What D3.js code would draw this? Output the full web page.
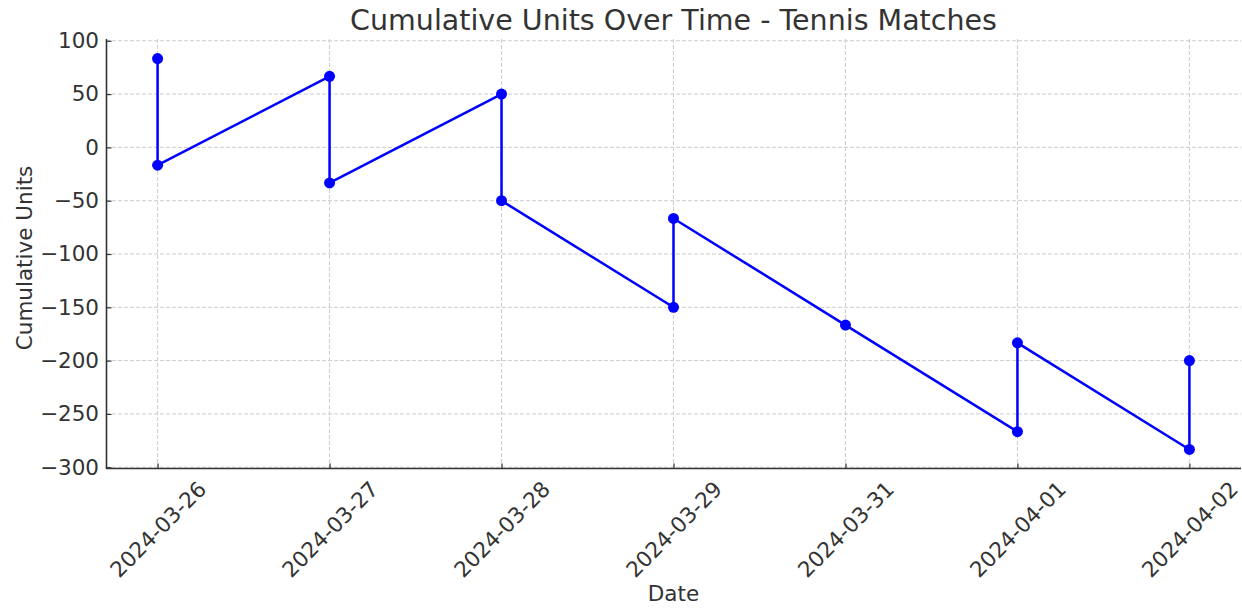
<!DOCTYPE html>
<html><head><meta charset="utf-8">
<script src="https://cdn.jsdelivr.net/npm/d3@7"></script>
<style>body{margin:0;background:#fff}svg{display:block}svg text{font-family:"DejaVu Sans",sans-serif}</style>
</head><body><svg id="c" width="1242" height="609"></svg>
<script>
const categories = ["2024-03-26","2024-03-27","2024-03-28","2024-03-29","2024-03-31","2024-04-01","2024-04-02"];
const pointDates = ["2024-03-26","2024-03-26","2024-03-27","2024-03-27","2024-03-28","2024-03-28","2024-03-29","2024-03-29","2024-03-31","2024-04-01","2024-04-01","2024-04-02","2024-04-02"];
const cumulativeUnits = [83.33,-16.67,66.67,-33.33,50,-50,-150,-66.67,-166.67,-266.67,-183.33,-283.33,-200];
const yTicks = [100,50,0,-50,-100,-150,-200,-250,-300];
const titleText = "Cumulative Units Over Time - Tennis Matches";
const xLabel = "Date", yLabel = "Cumulative Units";

const svg = d3.select("#c");
const L = 106, R = 1241, T = 39, B = 469;
const n = categories.length;
const x = d3.scaleLinear().domain([-0.3, n - 1 + 0.3]).range([L, R]);
const xi = d => x(categories.indexOf(d));
const ymin = d3.min(cumulativeUnits), ymax = d3.max(cumulativeUnits), pad = (ymax - ymin) * 0.05;
const y = d3.scaleLinear().domain([ymin - pad, ymax + pad]).range([B, T]);
const txt = "#333";
const FS = "21.5px";

// grid
const g = svg.append("g");
g.selectAll(".gx").data(categories).join("line")
  .attr("x1", d => xi(d)).attr("x2", d => xi(d)).attr("y1", T).attr("y2", B)
  .attr("stroke", "#cccccc").attr("stroke-width", 1).attr("stroke-dasharray", "4,2");
g.selectAll(".gy").data(yTicks).join("line")
  .attr("x1", L).attr("x2", R).attr("y1", d => y(d)).attr("y2", d => y(d))
  .attr("stroke", "#cccccc").attr("stroke-width", 1).attr("stroke-dasharray", "4,2");

// axes
const xAxis = d3.axisBottom(d3.scalePoint().domain(categories).range([xi(categories[0]), xi(categories[n-1])]))
  .tickSizeInner(-5).tickSizeOuter(0);
const xg = svg.append("g").attr("transform", `translate(0,${B - 0.5})`).call(xAxis).attr("font-family", null).attr("font-size", null);
xg.select(".domain").attr("d", `M${L},0H${R}`).attr("stroke", txt).attr("stroke-width", 1.6);
xg.selectAll(".tick line").attr("stroke", txt).attr("stroke-width", 1.2);
xg.selectAll(".tick text").attr("fill", txt).style("font-size", FS)
  .attr("text-anchor", "middle").attr("dy", "0.35em").attr("x", 0).attr("y", 0)
  .each(function() {
    const len = this.getComputedTextLength();
    const h = 16;
    const half = (len + h) * Math.SQRT1_2 / 2;
    d3.select(this).attr("transform", `translate(0,${11 + half}) rotate(-45)`);
  });

const yAxis = d3.axisLeft(y).tickValues(yTicks).tickSizeInner(-5).tickSizeOuter(0)
  .tickFormat(d => d < 0 ? "\u2212" + Math.abs(d) : d);
const yg = svg.append("g").attr("transform", `translate(${L + 0.5},0)`).call(yAxis).attr("font-family", null).attr("font-size", null);
yg.select(".domain").attr("d", `M0,${T}V${B}`).attr("stroke", txt).attr("stroke-width", 1.6);
yg.selectAll(".tick line").attr("stroke", txt).attr("stroke-width", 1.2);
yg.selectAll(".tick text").attr("fill", txt).style("font-size", FS).attr("x", -7.5);

// line and points
const line = d3.line().x((d, i) => xi(pointDates[i])).y(d => y(d));
svg.append("path").datum(cumulativeUnits).attr("d", line)
  .attr("fill", "none").attr("stroke", "#0000ff").attr("stroke-width", 2.5).attr("stroke-linejoin", "round");
svg.selectAll(".pt").data(cumulativeUnits).join("circle")
  .attr("cx", (d, i) => xi(pointDates[i])).attr("cy", d => y(d)).attr("r", 5.5).attr("fill", "#0000ff");

// labels
svg.append("text").attr("x", (L + R) / 2).attr("y", 30).attr("text-anchor", "middle")
  .attr("fill", txt).style("font-size", "28.5px").text(titleText);
svg.append("text").attr("x", (L + R) / 2).attr("y", 601).attr("text-anchor", "middle")
  .attr("fill", txt).style("font-size", FS).text(xLabel);
svg.append("text").attr("transform", `translate(32,258) rotate(-90)`).attr("text-anchor", "middle")
  .attr("fill", txt).style("font-size", FS).text(yLabel);
</script></body></html>
